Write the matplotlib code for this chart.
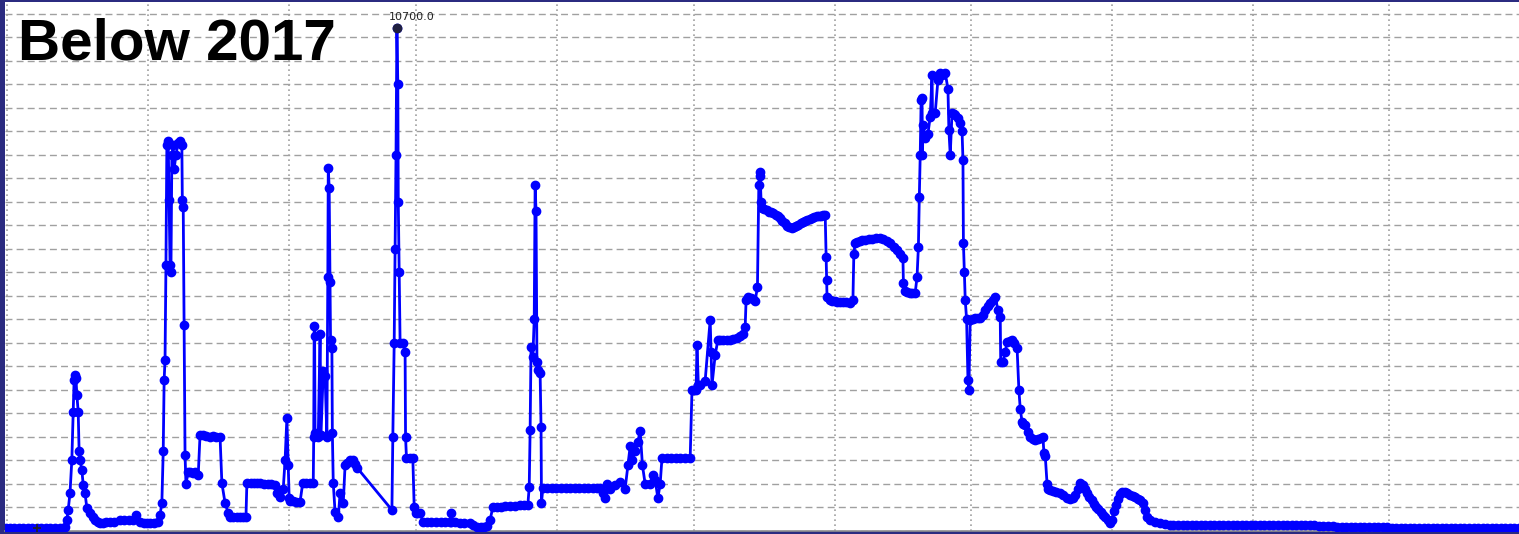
import numpy as np
import matplotlib
matplotlib.use("Agg")
import matplotlib.pyplot as plt
import matplotlib.dates as mdates
from datetime import datetime

# ---- data: days since start_date ----
start_date = datetime(2016, 11, 30, 12)

seg1_days = [0.3, 1, 2, 3, 4, 5, 6, 7, 8, 9, 10, 11, 12, 13.2]
seg1_vals = [64, 66, 64, 62, 60, 62, 64, 66, 70, 68, 64, 66, 70, 85]

seg2_days = [13.6, 13.9, 14.3, 14.7, 15.0, 15.2, 15.4, 15.6, 15.8, 16.1, 16.3, 16.5, 16.9, 17.2, 17.6,
             18.0, 18.7, 19.3, 19.8, 20.4, 20.9]
seg2_vals = [234, 450, 809, 1511, 2532, 3213, 3320, 3260, 2900, 2532, 1700, 1511, 1300, 980, 809,
             489, 383, 300, 234, 190, 170]

seg3_days = [21.5, 22.3, 23.1, 24.0, 25.3, 26.2, 27.2, 28.2, 28.8, 29.7, 30.5, 31.2, 31.9, 32.8, 33.7]
seg3_vals = [175, 185, 192, 200, 234, 234, 230, 234, 340, 192, 180, 175, 170, 180, 192]

seg4_days = [34.1, 34.5, 34.8, 35.0, 35.2, 35.4, 35.6, 35.9, 36.1, 36.3, 36.5, 36.7, 37.0, 37.2, 37.6,
             38.1, 38.5, 38.9, 39.0, 39.2, 39.4, 39.6, 39.8]
seg4_vals = [340, 600, 1700, 3213, 3639, 5660, 8214, 8300, 7044, 5660, 5500, 8000, 8200, 7700, 8000,
             8257, 8300, 8214, 7044, 6900, 4384, 1617, 1000]

seg5_days = [40.3, 40.8, 41.3, 41.8, 42.5, 42.9, 43.6, 44.3, 45.1, 45.8, 46.5, 47.3, 47.7, 48.4, 49.1,
             49.5, 50.2, 51.0, 51.7, 52.4, 53.0, 53.2, 54.0, 54.8, 55.5, 56.1, 57.0, 57.8, 58.6, 59.4,
             59.8, 60.5]
seg5_vals = [1256, 1256, 1240, 1256, 1192, 2043, 2043, 2030, 2000, 2010, 2000, 2000, 1021, 596, 383,
             298, 298, 298, 298, 298, 298, 1021, 1021, 1030, 1021, 1021, 1010, 1000, 990, 979,
             809, 724]

seg6_days = [61.2, 61.6, 62.0, 62.3, 62.5, 62.7, 63.4, 64.1, 64.9, 65.5, 66.3, 67.1, 67.8]
seg6_vals = [900, 1500, 2405, 1400, 700, 640, 630, 620, 620, 1030, 1030, 1030, 1030]

seg7_days = [67.9, 68.0, 68.1, 68.2, 68.9, 69.3, 69.5, 70.0, 70.4, 70.8, 71.0, 71.1, 71.3, 71.5, 71.6,
             71.9, 72.0, 72.2, 72.6, 73.3, 73.7, 74.4, 74.8, 75.3, 75.9, 76.5, 77.0, 77.4]
seg7_vals = [2000, 4350, 4150, 2085, 2000, 4200, 2050, 3400, 3300, 2000, 5400, 7725, 7300, 5300, 4064,
             3900, 2085, 1021, 400, 300, 800, 600, 1400, 1450, 1500, 1500, 1420, 1350]

seg8_days = [85.1, 85.3, 85.6, 85.8, 86.0, 86.2, 86.4, 86.5, 86.7, 86.9, 87.5, 88.0, 88.1, 88.3, 89.0,
             89.7, 90.0, 90.4, 90.6, 91.3, 91.9]
seg8_vals = [447, 2000, 4000, 6000, 8000, 10700, 9500, 7000, 5500, 4000, 4000, 3800, 2000, 1553, 1560,
             1553, 500, 380, 383, 383, 200]

seg9_days = [92.8, 93.8, 94.8, 95.8, 96.8, 97.9, 98.0, 98.1, 99.0, 100.0, 101.0, 102.3, 103.0, 103.8,
             104.6, 105.3, 106.0, 106.7, 107.3, 108.2, 109.1, 110.0, 111.1, 112.2, 113.3, 114.2, 115.0]
seg9_vals = [192, 192, 190, 188, 190, 192, 383, 192, 185, 180, 175, 170, 130, 85,
             80, 90, 100, 234, 511, 515, 520, 525, 530, 540, 550, 555, 560]

seg10_days = [115.3, 115.5, 115.7, 116.1, 116.4, 116.6, 116.8, 117.0, 117.3, 117.7, 117.9, 118.0, 118.3,
              119.3, 120.3, 121.3, 122.3, 123.3, 124.3, 125.3, 126.3, 127.3, 128.3, 129.3, 130.3, 130.9]
seg10_vals = [936, 2149, 3916, 3700, 4500, 7363, 6800, 3600, 3426, 3350, 2213, 600, 915,
              915, 915, 920, 915, 915, 910, 915, 915, 920, 915, 915, 915, 915]

seg11_days = [131.5, 132.0, 132.5, 133.1, 134.2, 135.3, 136.4, 137.0, 137.5, 137.9, 138.6, 139.2, 139.7,
              140.2, 140.8, 141.9, 142.5, 143.0, 143.6, 144.1, 144.5, 145.5, 146.5, 147.5, 148.5, 149.5,
              150.7]
seg11_vals = [800, 700, 1000, 900, 979, 1050, 900, 1400, 1800, 1500, 1700, 1900, 2130,
              1400, 1000, 1000, 1200, 1085, 700, 1000, 1550, 1550, 1550, 1560, 1550, 1550,
              1550]

seg12_days = [151.1, 151.5, 152.0, 152.2, 152.5, 152.9, 154.0, 155.1, 155.3, 155.5, 156.2, 156.8, 157.3,
              158.0, 158.8, 159.5, 160.2, 161.0, 161.7, 162.3, 162.8]
seg12_vals = [3000, 3000, 3000, 3958, 3100, 3100, 3200, 4490, 3800, 3100, 3745, 4064, 4064,
              4064, 4070, 4064, 4080, 4100, 4150, 4200, 4341]

seg13_days = [163.0, 163.4, 164.0, 164.5, 165.0, 165.5, 165.8, 166.0, 166.1, 166.3, 166.5,
              167.0, 167.5, 168.0, 168.5, 169.0, 169.5, 170.0, 170.5, 171.0, 171.5, 172.0, 172.5, 173.0,
              173.5, 174.0, 174.5, 175.0, 175.5, 176.0, 176.5, 177.0, 177.5, 178.0, 178.5, 179.0, 179.5,
              180.0, 180.4]
seg13_vals = [4916, 4980, 4960, 4940, 4900, 5192, 7363, 7640, 7560, 7000, 6873,
              6840, 6820, 6790, 6780, 6760, 6730, 6700, 6650, 6600, 6540, 6490, 6460, 6450,
              6460, 6480, 6510, 6540, 6570, 6600, 6620, 6640, 6660, 6680, 6690, 6700, 6700,
              6710, 6724]

seg14_days = [180.6, 180.7, 180.8, 181.5, 182.0, 182.5, 183.0, 183.7, 184.3, 185.0, 185.9, 186.5,
              186.7, 187.0, 187.5, 188.0, 188.5, 189.2, 190.0, 190.8, 191.6, 192.5, 193.2, 194.0, 194.7,
              195.5, 196.2, 196.9, 197.5, 197.6, 198.0, 198.5, 199.1, 199.6, 200.2,
              200.6, 200.9, 201.1, 201.3]
seg14_vals = [5831, 5341, 4980, 4916, 4900, 4890, 4880, 4880, 4870, 4860, 4852, 4916,
              5900, 6129, 6150, 6170, 6180, 6190, 6200, 6220, 6240, 6230, 6200, 6160, 6120,
              6050, 5980, 5900, 5800, 5277, 5100, 5080, 5065, 5065, 5065,
              5405, 6044, 7108, 8001]

seg15_days = [201.5, 201.7, 201.8, 201.9, 202.4, 203.0, 203.5, 203.9, 204.0, 204.6, 205.2, 205.7, 206.2,
              206.8, 207.4, 207.6, 207.9, 208.3, 208.7, 209.0, 209.6, 210.1, 210.5, 210.7, 210.8, 211.0,
              211.2, 211.5, 211.8, 212.0]
seg15_vals = [9172, 9214, 8001, 8640, 8363, 8450, 8810, 9704, 8900, 8895, 9600, 9746, 9700,
              9746, 9400, 8533, 8001, 8895, 8870, 8850, 8780, 8682, 8500, 7895, 6129, 5500,
              4916, 4500, 3213, 3000]

seg16_days = [212.3, 212.9, 213.4, 214.0, 214.5, 215.0, 215.6, 216.2, 216.7, 217.2, 217.8, 218.4, 218.9,
              219.0, 219.5, 220.0, 220.4, 221.0, 221.5, 222.0, 222.6,
              223.0, 223.3, 223.7, 224.0, 224.4, 225.0, 225.5, 226.0, 226.6, 227.2, 227.8, 228.3]
seg16_vals = [4490, 4510, 4533, 4535, 4540, 4600, 4700, 4780, 4852, 4920, 4980, 4700, 4554,
              3600, 3600, 3800, 4022, 4050, 4064, 4000, 3900,
              3000, 2600, 2320, 2280, 2256, 2100, 2000, 1960, 1936, 1950, 1980, 2000]

seg17_days = [228.5, 228.8, 229.2, 229.5, 229.9, 230.5, 231.2, 232.1, 232.8, 233.6, 234.3, 235.0, 235.4,
              236.0, 236.5, 237.0, 237.5, 238.0, 238.5, 239.0, 239.5, 240.0, 240.5, 241.0, 241.5, 242.0,
              242.5, 243.1, 243.5, 244.0, 244.4, 244.8, 245.3, 245.7, 246.3, 246.8, 247.5, 248.2, 248.6,
              249.2, 249.7, 250.3, 250.8, 251.2, 251.9, 253.0, 254.1, 255.2, 256.3]
seg17_vals = [1660, 1600, 1000, 900, 880, 850, 830, 800, 770, 700, 680, 700, 760,
              900, 1021, 980, 900, 809, 720, 650, 580, 520, 460, 400, 340, 290,
              230, 175, 240, 420, 560, 680, 780, 830, 820, 800, 770, 740, 720,
              690, 650, 600, 450, 300, 240, 200, 170, 140, 128]

tail_days = list(range(257, 334))
tail_vals = [130, 130, 129, 129, 128, 128, 128, 128, 128, 127, 127, 126, 126, 126, 125, 125, 124,
             122, 121, 120, 120, 120, 120, 119, 119, 118, 118, 118, 118, 117, 117, 117, 116, 116, 112,
             96, 95, 95, 95, 94, 94, 93, 93, 92, 92, 91, 91, 90,
             74, 72, 71, 70, 70, 70, 69, 69, 69, 68, 68, 68, 68, 67, 67, 67, 67, 66, 66, 66, 66,
             65, 65, 65, 65, 64, 64, 64, 64]

black_mark_day = [7.0]
black_mark_val = [64]

peak_label = "10700.0"
title_text = "Below 2017"
# -------------------------------------------------------------------

day_segments = [seg1_days, seg2_days, seg3_days, seg4_days, seg5_days, seg6_days, seg7_days, seg8_days,
                seg9_days, seg10_days, seg11_days, seg12_days, seg13_days, seg14_days, seg15_days,
                seg16_days, seg17_days, tail_days]
val_segments = [seg1_vals, seg2_vals, seg3_vals, seg4_vals, seg5_vals, seg6_vals, seg7_vals, seg8_vals,
                seg9_vals, seg10_vals, seg11_vals, seg12_vals, seg13_vals, seg14_vals, seg15_vals,
                seg16_vals, seg17_vals, tail_vals]
days = np.concatenate([np.asarray(d, float) for d in day_segments])
values = np.concatenate([np.asarray(v, float) for v in val_segments])

W, H = 1519, 534
fig = plt.figure(figsize=(W / 100, H / 100), dpi=100)
fig.patch.set_facecolor("#2b2b80")
ax = fig.add_axes([5 / W, 3 / H, 1514 / W, 529 / H])
ax.set_facecolor("white")

base = mdates.date2num(start_date)
x = base + days
y = values

ax.plot(x, y, color="#0000ff", lw=2.0, marker="o", ms=6.0, mec="#0000ff",
        mfc="#0000ff", zorder=3)
ax.plot(base + np.asarray(black_mark_day), black_mark_val, ls="none", marker="+",
        ms=6, mew=1.2, color="#222222", zorder=4)

imax = int(np.argmax(y))
ax.plot([x[imax]], [y[imax]], marker="o", ms=6, color="#202040", zorder=4)
ax.annotate(peak_label, (x[imax], y[imax]), xytext=(-6, 4), textcoords="offset points",
            fontsize=8, color="#222222", ha="left", va="bottom",
            family="DejaVu Sans")

ax.set_xlim(base, base + 333.0)
ax.set_ylim(0, 11250)

ax.yaxis.set_major_locator(plt.MultipleLocator(500))
ax.xaxis.set_major_locator(mdates.MonthLocator())
ax.grid(axis="y", color="#a0a0a0", lw=1.0, ls=(0, (5, 3)))
ax.grid(axis="x", color="#a0a0a0", lw=1.2, ls=(0, (1, 2)))
ax.set_axisbelow(True)
ax.tick_params(length=0, labelbottom=False, labelleft=False)
for s in ["top", "right", "left"]:
    ax.spines[s].set_visible(False)
ax.spines["bottom"].set_color("#909090")
ax.spines["bottom"].set_linewidth(1.2)

ax.text(13 / 1514, 1 - 58 / 529, title_text, transform=ax.transAxes,
        fontsize=42, fontweight="bold", family="Liberation Sans",
        color="black", ha="left", va="baseline")

fig.savefig("out.png", dpi=100, facecolor=fig.get_facecolor())
